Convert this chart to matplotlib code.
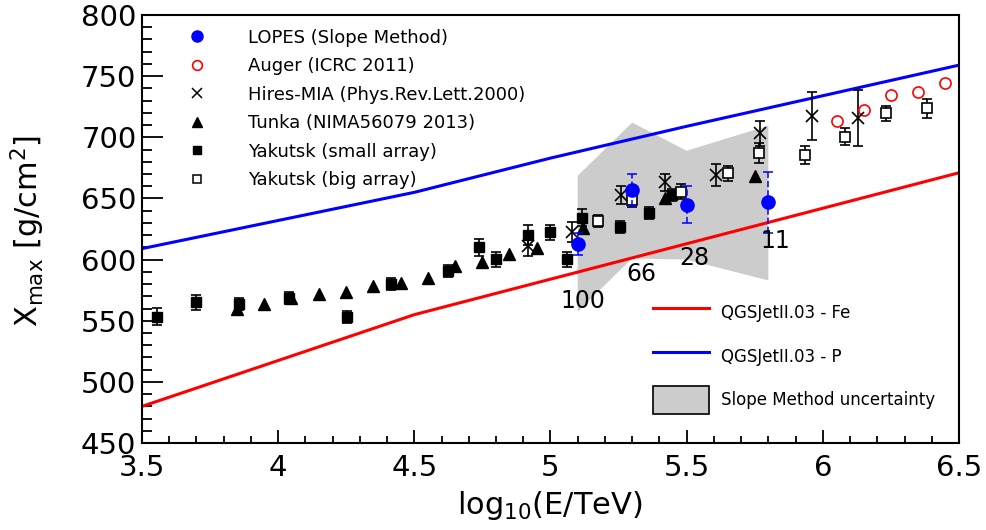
import numpy as np
import matplotlib
matplotlib.use('Agg')
import matplotlib.pyplot as plt
from matplotlib.lines import Line2D
from matplotlib.patches import Patch
from matplotlib.ticker import MultipleLocator

plt.rcParams['font.family'] = 'DejaVu Sans'
plt.rcParams['mathtext.fontset'] = 'dejavusans'

# --- model curves (QGSJetII.03) ---
model_x = [3.5, 4.5, 5.0, 5.5, 6.0, 6.5]
model_fe = [480, 555, 584, 613, 642, 671]
model_p = [609, 655, 683, 709, 734, 759]

# --- slope method uncertainty band ---
band_x = [5.1, 5.3, 5.5, 5.8, 5.8, 5.5, 5.3, 5.1]
band_y = [668.6, 712, 689, 709.5, 583, 600, 601, 557.5]

# --- LOPES (slope method) ---
lopes_x = [5.1, 5.3, 5.5, 5.8]
lopes_y = [612.5, 657, 645, 647]
lopes_err = [9, 13, 15, 25]
lopes_n = ['100', '66', '28', '11']
lopes_lab_x = [5.12, 5.333, 5.527, 5.827]
lopes_lab_y = [566, 588, 601, 615.5]

# --- Auger (ICRC 2011) ---
auger_x = [6.051, 6.151, 6.25, 6.351, 6.449]
auger_y = [713.6, 722.3, 734.6, 736.8, 744.2]

# --- Hires-MIA ---
hires_x = [4.919, 5.08, 5.259, 5.421, 5.608, 5.77, 5.962, 6.131]
hires_y = [611, 622.8, 652.8, 663.2, 669.2, 703.3, 717.4, 716]
hires_err = [8, 8, 7, 7, 9, 10, 20, 23]

# --- Tunka ---
tunka_x = [3.85, 3.949, 4.046, 4.15, 4.249, 4.35, 4.45, 4.549, 4.649,
           4.75, 4.849, 4.95, 5.121, 5.421, 5.751]
tunka_y = [559.6, 563.7, 568.4, 572, 573.8, 578.4, 580.6, 585.2, 594.8,
           597.8, 604.3, 609.7, 625.6, 650.1, 668.6]

# --- Yakutsk small array ---
yks_x = [3.556, 3.698, 3.857, 4.041, 4.252, 4.414, 4.622, 4.739, 4.799,
         4.919, 5.0, 5.06, 5.115, 5.255, 5.362, 5.447]
yks_y = [553.3, 565, 563.7, 568.4, 553.3, 580, 590.5, 610, 600.2,
         620.1, 622.3, 600.3, 634.4, 626.4, 637.9, 652.8]
yks_err = [7, 6, 5, 5, 5, 5, 5, 7, 6, 8, 6, 6, 7, 5, 5, 5]

# --- Yakutsk big array ---
ykb_x = [5.176, 5.30, 5.478, 5.653, 5.766, 5.935, 6.082, 6.232, 6.382]
ykb_y = [631.8, 648.7, 655.5, 670.6, 687.4, 685.5, 700.5, 719.6, 723.7]
ykb_err = [5, 6, 6, 6, 8, 7, 7, 6, 8]

fig = plt.figure(figsize=(9.86, 5.30), dpi=100)
ax = fig.add_axes([0.144, 0.164, 0.8286, 0.8077])

ax.fill(band_x, band_y, color='#cccccc', lw=0, zorder=1)
ax.plot(model_x, model_fe, color='red', lw=2.2, zorder=2)
ax.plot(model_x, model_p, color='blue', lw=2.2, zorder=2)

ebkw = dict(ecolor='black', elinewidth=1.2, capsize=3.5, capthick=1.2, ls='none')
ax.errorbar(yks_x, yks_y, yerr=yks_err, marker='s', ms=7.5, mfc='black',
            mec='black', **ebkw, zorder=4)
ax.errorbar(ykb_x, ykb_y, yerr=ykb_err, marker='s', ms=7.5, mfc='white',
            mec='black', mew=1.2, **ebkw, zorder=4)
ax.errorbar(hires_x, hires_y, yerr=hires_err, marker='x', ms=9, mec='black',
            mew=1.2, **ebkw, zorder=4)
ax.plot(tunka_x, tunka_y, ls='none', marker='^', ms=8.5, color='black', zorder=4)
ax.plot(auger_x, auger_y, ls='none', marker='o', ms=8, mfc='none', mec='red',
        mew=1.2, zorder=4)
eb = ax.errorbar(lopes_x, lopes_y, yerr=lopes_err, marker='o', ms=9.5,
                 color='blue', ecolor='blue', elinewidth=1.1, capsize=3.5,
                 capthick=1.1, ls='none', zorder=5)
eb[2][0].set_linestyle((0, (4, 2)))

for lx, ly, n in zip(lopes_lab_x, lopes_lab_y, lopes_n):
    ax.text(lx, ly, n, fontsize=17, ha='center', va='center', zorder=6)

ax.set_xlim(3.5, 6.5)
ax.set_ylim(450, 800)
ax.xaxis.set_major_locator(MultipleLocator(0.5))
ax.xaxis.set_minor_locator(MultipleLocator(0.1))
ax.yaxis.set_major_locator(MultipleLocator(50))
ax.yaxis.set_minor_locator(MultipleLocator(10))
ax.xaxis.set_major_formatter(plt.FuncFormatter(lambda v, p: f'{v:g}'))
ax.tick_params(axis='both', which='both', direction='in', top=False, right=False,
               labelsize=21, width=1.3)
ax.tick_params(axis='y', which='major', length=15, pad=4)
ax.tick_params(axis='y', which='minor', length=7.5)
ax.tick_params(axis='x', which='major', length=9.5, pad=8)
ax.tick_params(axis='x', which='minor', length=5)
for s in ax.spines.values():
    s.set_linewidth(1.5)

fig.text(0.028, 0.565, r'X$_{\mathrm{max}}$ [g/cm$^{2}$]', rotation=90,
         fontsize=22, ha='center', va='center')
fig.text(0.558, 0.047, r'log$_{10}$(E/TeV)', fontsize=22, ha='center', va='center')

h1 = [
    Line2D([], [], ls='none', marker='o', ms=8, color='blue'),
    Line2D([], [], ls='none', marker='o', ms=7, mfc='none', mec='red', mew=1.2),
    Line2D([], [], ls='none', marker='x', ms=7, mec='black', mew=1.1),
    Line2D([], [], ls='none', marker='^', ms=7, color='black'),
    Line2D([], [], ls='none', marker='s', ms=6, color='black'),
    Line2D([], [], ls='none', marker='s', ms=6, mfc='white', mec='black', mew=1.1),
]
l1 = ['LOPES (Slope Method)', 'Auger (ICRC 2011)', 'Hires-MIA (Phys.Rev.Lett.2000)',
      'Tunka (NIMA56079 2013)', 'Yakutsk (small array)', 'Yakutsk (big array)']
leg1 = ax.legend(h1, l1, loc='upper left', bbox_to_anchor=(0.0365, 0.985),
                 frameon=False, fontsize=13, handlelength=2.0,
                 handletextpad=1.83, labelspacing=0.58, borderaxespad=0)
ax.add_artist(leg1)

h2 = [
    Line2D([], [], color='red', lw=2.2),
    Line2D([], [], color='blue', lw=2.2),
    Patch(facecolor='#cccccc', edgecolor='black', lw=1.2),
]
l2 = ['QGSJetII.03 - Fe', 'QGSJetII.03 - P', 'Slope Method uncertainty']
ax.legend(h2, l2, loc='upper left', bbox_to_anchor=(0.617, 0.353),
          frameon=False, fontsize=12, handlelength=3.36, handleheight=2.2,
          handletextpad=0.72, labelspacing=0.95, borderaxespad=0)

fig.savefig('out.png', dpi=100)
